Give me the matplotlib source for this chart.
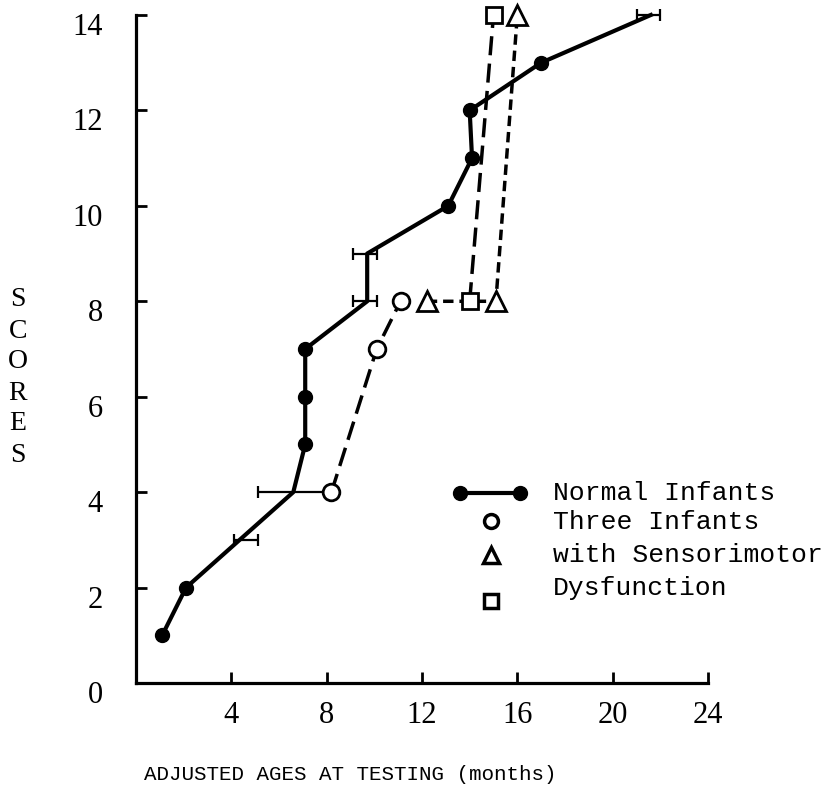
import matplotlib.pyplot as plt
import matplotlib.transforms as mtransforms

# normal infants: mean age for each score
normal_x = [1.1, 2.1, 6.6, 7.1, 7.1, 7.1, 9.7, 9.7, 13.1, 14.1, 14.0, 17.0, 21.6]
normal_y = [1, 2, 4, 5, 6, 7, 8, 9, 10, 11, 12, 13, 14]
has_dot = [1, 1, 0, 1, 1, 1, 0, 0, 1, 1, 1, 1, 0]

# age ranges drawn as horizontal bars
range_y = [3, 4, 8, 9, 14]
range_lo = [4.1, 5.1, 9.1, 9.1, 21.0]
range_hi = [5.1, 8.2, 10.1, 10.1, 22.0]

# three infants with sensorimotor dysfunction
circ_x = [8.2, 10.1, 11.1]
circ_y = [4, 7, 8]
tri_x = [12.2, 15.1, 16.0]
tri_y = [8, 8, 14]
sq_x = [14.0, 15.0]
sq_y = [8, 14]

x_ticks = [4, 8, 12, 16, 20, 24]
y_ticks = [0, 2, 4, 6, 8, 10, 12, 14]

legend_labels = ["Normal Infants", "Three Infants", "with Sensorimotor", "Dysfunction"]

W, H = 835, 792
fig = plt.figure(figsize=(W / 100, H / 100), dpi=100)
ax = fig.add_axes([136 / W, 1 - 683 / H, (708 - 136) / W, (683 - 15) / H])

long_dash = (0, (5.5, 2.4))
short_dash = (0, (3, 1.7))

# normal infants line + dots
ax.plot(normal_x, normal_y, color='k', lw=3, zorder=3, clip_on=False)
ax.plot([x for x, d in zip(normal_x, has_dot) if d],
        [y for y, d in zip(normal_y, has_dot) if d],
        'o', color='k', ms=10, zorder=4, clip_on=False)

# ranges
mid = [(a + b) / 2 for a, b in zip(range_lo, range_hi)]
half = [(b - a) / 2 for a, b in zip(range_lo, range_hi)]
ax.errorbar(mid, range_y, xerr=half, fmt='none', ecolor='k', elinewidth=1.6,
            capsize=4.5, capthick=1.6, zorder=3, clip_on=False)

# dysfunction infants
ax.plot(circ_x, circ_y, color='k', lw=2.5, ls=long_dash, marker='o', ms=12,
        mfc='white', mec='k', mew=2, zorder=5, clip_on=False)
ax.plot(tri_x, tri_y, color='k', lw=2.5, ls=short_dash, marker='^', ms=15,
        mfc='white', mec='k', mew=2, zorder=5, clip_on=False)
ax.plot(sq_x, sq_y, color='k', lw=2.5, ls=long_dash, marker='s', ms=11,
        mfc='white', mec='k', mew=2, zorder=6, clip_on=False)

ax.set_xlim(0, 24)
ax.set_ylim(0, 14)
ax.set_xticks(x_ticks)
ax.set_yticks(y_ticks)
for s in ['top', 'right']:
    ax.spines[s].set_visible(False)
for s in ['left', 'bottom']:
    ax.spines[s].set_linewidth(2.3)
ax.tick_params(direction='in', length=8, width=2, labelsize=22)
ax.tick_params(axis='x', pad=13)
ax.tick_params(axis='y', pad=24)
for lab in ax.get_xticklabels() + ax.get_yticklabels():
    lab.set_fontfamily('Liberation Serif')
off = mtransforms.ScaledTranslation(0, -9 / 100, fig.dpi_scale_trans)
for lab in ax.get_yticklabels():
    lab.set_transform(lab.get_transform() + off)

# y label as stacked letters
for i, ch in enumerate("SCORES"):
    fig.text(18 / W, 1 - (300 + 31 * i) / H, ch, ha='center', va='center',
             fontsize=20, family='Liberation Serif')

fig.text(350 / W, 1 - 775 / H, "ADJUSTED AGES AT TESTING (months)",
         ha='center', va='center', fontsize=15, family='Liberation Mono')

# legend drawn by hand
leg_y = [493, 522, 555, 588]
for lab, y in zip(legend_labels, leg_y):
    fig.text(553 / W, 1 - y / H, lab, ha='left', va='center',
             fontsize=19, family='Liberation Mono')
fig.add_artist(plt.Line2D([460 / W, 520 / W], [1 - 493 / H] * 2, color='k', lw=3,
                          marker='o', ms=10))
fig.add_artist(plt.Line2D([491 / W], [1 - 521 / H], marker='o', ms=10, mfc='white',
                          mec='k', mew=2.5, ls='none'))
fig.add_artist(plt.Line2D([491 / W], [1 - 555 / H], marker='^', ms=12, mfc='white',
                          mec='k', mew=2.5, ls='none'))
fig.add_artist(plt.Line2D([491 / W], [1 - 601 / H], marker='s', ms=10, mfc='white',
                          mec='k', mew=2.5, ls='none'))

fig.savefig("out.png", dpi=100)
